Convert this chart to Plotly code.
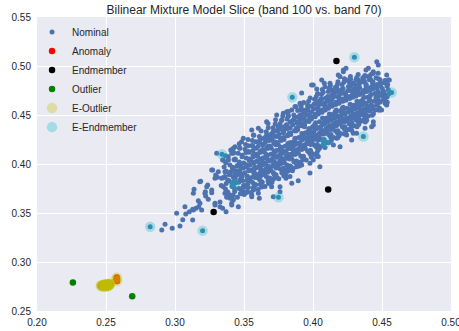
import plotly.graph_objects as go

TITLE = "Bilinear Mixture Model Slice (band 100 vs. band 70)"
x_ticks = [0.20, 0.25, 0.30, 0.35, 0.40, 0.45, 0.50]
y_ticks = [0.25, 0.30, 0.35, 0.40, 0.45, 0.50, 0.55]

# Nominal points (band 100, band 70)
nominal_tail = [
    (0.2904,0.3327),(0.2928,0.3385),(0.2980,0.3344),(0.3036,0.3367),(0.3012,0.3497),(0.3072,0.3565),
    (0.3078,0.3490),(0.3104,0.3514),(0.3128,0.3429),(0.3133,0.3531),(0.3152,0.3548),(0.3172,0.3565),
    (0.3169,0.3626),(0.3181,0.3599),(0.3193,0.3531),(0.3133,0.3702),(0.3138,0.3742),(0.3186,0.3824),
    (0.3237,0.3786),(0.3220,0.3718),(0.3222,0.3674),(0.3241,0.3640),(0.3266,0.3735),(0.3266,0.3707),
    (0.3273,0.3939),(0.3314,0.3922),(0.3295,0.3888),(0.3290,0.3599),(0.3326,0.3612),(0.3326,0.3565),
    (0.3345,0.3548),(0.3370,0.3514),(0.3307,0.3864),(0.3338,0.3854),(0.3350,0.3769),(0.3362,0.3701),
    (0.3379,0.3701),(0.3375,0.3660),(0.3399,0.3650),(0.3411,0.3599),(0.3423,0.3820),(0.3362,0.3873),
    (0.3399,0.3907),(0.3423,0.3939),(0.3447,0.3922),(0.3459,0.3990),(0.3435,0.4041),(0.3423,0.4109),
    (0.3404,0.4143),(0.3435,0.4177),(0.3345,0.4041),(0.3302,0.4109),(0.3230,0.3769),(0.3266,0.3939),
    (0.3290,0.3854),(0.3217,0.3701),(0.3290,0.3582),(0.3459,0.3565),(0.3423,0.3633),(0.3056,0.3430),
    (0.3128,0.3538),(0.3180,0.3820),(0.3350,0.4040),
]
nominal_edges = [
    (0.3664,0.4432),(0.3604,0.4364),(0.3556,0.4347),(0.3568,0.4296),(0.3495,0.4262),(0.3483,0.4228),
    (0.3423,0.4160),(0.3411,0.4109),(0.3386,0.4075),(0.3471,0.4160),(0.3737,0.4500),(0.3785,0.4517),
    (0.3810,0.4534),(0.3918,0.4724),(0.3870,0.4588),(0.3846,0.4551),(0.3930,0.4551),(0.3906,0.4619),
    (0.3821,0.4486),(0.3773,0.4449),(0.3749,0.4381),(0.3712,0.4332),(0.3990,0.4806),(0.4063,0.4857),
    (0.4027,0.4765),(0.4082,0.4823),(0.4135,0.4755),(0.4002,0.4806),(0.4087,0.4789),(0.4183,0.4908),
    (0.4220,0.4942),(0.4239,0.4976),(0.4196,0.4891),(0.4220,0.4959),(0.4123,0.4823),(0.4172,0.4772),
    (0.4256,0.4857),(0.4292,0.4823),(0.4329,0.4857),(0.4365,0.4874),(0.4462,0.5044),(0.4473,0.5010),
    (0.4401,0.4976),(0.4437,0.4942),(0.4384,0.4959),(0.4534,0.4908),(0.4553,0.4857),(0.4401,0.4891),
    (0.4437,0.4925),(0.4546,0.4857),(0.4522,0.4619),(0.4473,0.4653),(0.4534,0.4687),(0.4510,0.4741),
    (0.4497,0.4704),(0.4534,0.4602),(0.4497,0.4551),(0.4377,0.4517),(0.4365,0.4449),(0.4437,0.4432),
    (0.4425,0.4381),(0.4437,0.4398),(0.4377,0.4364),(0.4316,0.4313),(0.4292,0.4313),(0.4280,0.4245),
    (0.4244,0.4296),(0.4172,0.4262),(0.4148,0.4194),(0.4196,0.4177),(0.4038,0.4245),(0.4046,0.4160),
    (0.3978,0.4279),(0.4051,0.4313),(0.4038,0.4076),(0.4051,0.4177),(0.4050,0.3973),(0.3978,0.3907),
    (0.3893,0.3828),(0.3846,0.3803),(0.3804,0.3854),(0.3761,0.3769),(0.3761,0.3718),(0.3712,0.3667),
    (0.3700,0.3769),(0.3604,0.3701),(0.3556,0.3667),(0.4027,0.4076),(0.4002,0.4041),(0.3918,0.3990),
    (0.3857,0.3956),(0.3785,0.3956),(0.3611,0.3650),(0.3483,0.3701),(0.3411,0.3582),(0.3411,0.3650),
    (0.3978,0.4007),(0.3797,0.3888),(0.3833,0.3873),(0.3495,0.3718),(0.3556,0.3684),
]
nominal_core = [
    (0.3335,0.378),(0.3362,0.392),(0.3348,0.386),(0.3371,0.380),(0.3356,0.397),(0.3366,0.3745),
    (0.3384,0.371),(0.3392,0.383),(0.3405,0.392),(0.3413,0.377),(0.3398,0.399),(0.3421,0.387),(0.3387,0.404),
    (0.3416,0.396),(0.3409,0.368),(0.3394,0.389),
    (0.3432,0.372),(0.3441,0.381),(0.3455,0.389),(0.3463,0.375),(0.3448,0.398),(0.3471,0.384),(0.3437,0.405),
    (0.3466,0.402),(0.3452,0.366),(0.3444,0.393),(0.3469,0.393),(0.3458,0.411),(0.3474,0.370),(0.3436,0.386),
    (0.3482,0.374),(0.3491,0.383),(0.3505,0.391),(0.3513,0.378),(0.3498,0.401),(0.3521,0.387),(0.3487,0.409),
    (0.3516,0.406),(0.3502,0.369),(0.3494,0.396),(0.3519,0.397),(0.3508,0.415),(0.3524,0.372),(0.3486,0.389),
    (0.3511,0.420),(0.3497,0.378),
    (0.3532,0.376),(0.3541,0.386),(0.3555,0.394),(0.3563,0.381),(0.3548,0.404),(0.3571,0.391),(0.3537,0.412),
    (0.3566,0.409),(0.3552,0.371),(0.3544,0.399),(0.3569,0.401),(0.3558,0.419),(0.3574,0.377),(0.3536,0.393),
    (0.3561,0.424),(0.3547,0.383),(0.3539,0.405),(0.3567,0.387),
    (0.3582,0.379),(0.3591,0.389),(0.3605,0.397),(0.3613,0.384),(0.3598,0.408),(0.3621,0.395),(0.3587,0.416),
    (0.3616,0.413),(0.3602,0.374),(0.3594,0.403),(0.3619,0.405),(0.3608,0.423),(0.3624,0.380),(0.3586,0.396),
    (0.3611,0.428),(0.3597,0.386),(0.3589,0.410),(0.3617,0.391),(0.3603,0.418),(0.3622,0.400),
    (0.3632,0.381),(0.3641,0.392),(0.3655,0.401),(0.3663,0.387),(0.3648,0.412),(0.3671,0.398),(0.3637,0.420),
    (0.3666,0.417),(0.3652,0.377),(0.3644,0.406),(0.3669,0.409),(0.3658,0.428),(0.3674,0.383),(0.3636,0.399),
    (0.3661,0.433),(0.3647,0.389),(0.3639,0.414),(0.3667,0.394),(0.3653,0.422),(0.3672,0.404),(0.3643,0.426),
    (0.3659,0.395),
    (0.3682,0.385),(0.3691,0.396),(0.3705,0.405),(0.3713,0.391),(0.3698,0.416),(0.3721,0.402),(0.3687,0.424),
    (0.3716,0.421),(0.3702,0.381),(0.3694,0.410),(0.3719,0.413),(0.3708,0.432),(0.3724,0.387),(0.3686,0.403),
    (0.3711,0.437),(0.3697,0.393),(0.3689,0.418),(0.3717,0.398),(0.3703,0.426),(0.3722,0.408),(0.3693,0.430),
    (0.3709,0.399),
    (0.3732,0.389),(0.3741,0.400),(0.3755,0.409),(0.3763,0.395),(0.3748,0.420),(0.3771,0.406),(0.3737,0.428),
    (0.3766,0.425),(0.3752,0.385),(0.3744,0.414),(0.3769,0.417),(0.3758,0.436),(0.3774,0.391),(0.3736,0.407),
    (0.3761,0.441),(0.3747,0.397),(0.3739,0.422),(0.3767,0.402),(0.3753,0.430),(0.3772,0.412),(0.3743,0.434),
    (0.3759,0.403),
    (0.3783,0.394),(0.3795,0.405),(0.3804,0.413),(0.3811,0.399),(0.3790,0.425),(0.3822,0.409),(0.3786,0.433),
    (0.3815,0.429),(0.3801,0.389),(0.3797,0.418),(0.3818,0.421),(0.3807,0.440),(0.3826,0.396),(0.3784,0.411),
    (0.3812,0.446),(0.3793,0.401),(0.3788,0.427),(0.3819,0.406),(0.3806,0.436),(0.3824,0.416),(0.3791,0.438),
    (0.3809,0.408),
    (0.3831,0.398),(0.3843,0.410),(0.3856,0.417),(0.3862,0.403),(0.3839,0.430),(0.3873,0.413),(0.3835,0.437),
    (0.3866,0.434),(0.3851,0.393),(0.3847,0.422),(0.3869,0.426),(0.3857,0.445),(0.3876,0.401),(0.3833,0.416),
    (0.3861,0.450),(0.3844,0.406),(0.3838,0.432),(0.3868,0.411),(0.3854,0.440),(0.3874,0.420),(0.3841,0.443),
    (0.3859,0.413),
    (0.3881,0.403),(0.3893,0.415),(0.3906,0.422),(0.3912,0.408),(0.3889,0.435),(0.3923,0.418),(0.3885,0.442),
    (0.3916,0.439),(0.3901,0.398),(0.3897,0.427),(0.3919,0.431),(0.3907,0.450),(0.3926,0.406),(0.3883,0.421),
    (0.3911,0.455),(0.3894,0.411),(0.3888,0.437),(0.3918,0.416),(0.3904,0.445),(0.3924,0.425),(0.3891,0.448),
    (0.3909,0.418),
    (0.3931,0.408),(0.3943,0.420),(0.3956,0.427),(0.3962,0.413),(0.3939,0.440),(0.3973,0.423),(0.3935,0.447),
    (0.3966,0.444),(0.3951,0.404),(0.3947,0.432),(0.3969,0.436),(0.3957,0.455),(0.3976,0.411),(0.3933,0.426),
    (0.3961,0.460),(0.3944,0.416),(0.3938,0.442),(0.3968,0.421),(0.3954,0.450),(0.3974,0.430),(0.3941,0.453),
    (0.3959,0.423),
    (0.3981,0.414),(0.3993,0.426),(0.4006,0.433),(0.4012,0.419),(0.3989,0.446),(0.4023,0.429),(0.3985,0.453),
    (0.4016,0.450),(0.4001,0.410),(0.3997,0.438),(0.4019,0.442),(0.4007,0.461),(0.4026,0.417),(0.3983,0.432),
    (0.4011,0.466),(0.3994,0.422),(0.3988,0.448),(0.4018,0.427),(0.4004,0.456),(0.4024,0.436),(0.3991,0.459),
    (0.4009,0.429),
    (0.4031,0.420),(0.4043,0.431),(0.4056,0.438),(0.4062,0.425),(0.4039,0.451),(0.4073,0.434),(0.4035,0.458),
    (0.4066,0.455),(0.4051,0.417),(0.4047,0.443),(0.4069,0.447),(0.4057,0.466),(0.4076,0.423),(0.4033,0.437),
    (0.4061,0.471),(0.4044,0.428),(0.4038,0.453),(0.4068,0.432),(0.4054,0.461),(0.4074,0.441),(0.4041,0.464),
    (0.4059,0.434),
    (0.4081,0.425),(0.4093,0.436),(0.4106,0.443),(0.4112,0.430),(0.4089,0.455),(0.4123,0.439),(0.4085,0.462),
    (0.4116,0.459),(0.4101,0.422),(0.4097,0.447),(0.4119,0.451),(0.4107,0.469),(0.4126,0.428),(0.4083,0.441),
    (0.4111,0.474),(0.4094,0.433),(0.4088,0.457),(0.4118,0.436),(0.4104,0.465),(0.4124,0.445),(0.4091,0.467),
    (0.4109,0.438),
    (0.4131,0.430),(0.4143,0.440),(0.4156,0.447),(0.4162,0.434),(0.4139,0.459),(0.4173,0.443),(0.4135,0.466),
    (0.4166,0.463),(0.4151,0.427),(0.4147,0.451),(0.4169,0.455),(0.4157,0.473),(0.4176,0.432),(0.4133,0.445),
    (0.4161,0.478),(0.4144,0.437),(0.4138,0.461),(0.4168,0.440),(0.4154,0.469),(0.4174,0.449),(0.4141,0.471),
    (0.4159,0.442),
    (0.4181,0.434),(0.4193,0.444),(0.4206,0.450),(0.4212,0.438),(0.4189,0.462),(0.4223,0.446),(0.4185,0.469),
    (0.4216,0.466),(0.4201,0.431),(0.4197,0.454),(0.4219,0.458),(0.4207,0.476),(0.4226,0.436),(0.4183,0.448),
    (0.4211,0.481),(0.4194,0.441),(0.4188,0.464),(0.4218,0.444),(0.4204,0.472),(0.4224,0.452),(0.4191,0.474),
    (0.4209,0.446),
    (0.4231,0.438),(0.4243,0.447),(0.4256,0.453),(0.4262,0.441),(0.4239,0.465),(0.4273,0.449),(0.4235,0.472),
    (0.4266,0.469),(0.4251,0.435),(0.4247,0.457),(0.4269,0.461),(0.4257,0.479),(0.4276,0.440),(0.4233,0.451),
    (0.4261,0.484),(0.4244,0.444),(0.4238,0.467),(0.4268,0.447),(0.4254,0.475),(0.4274,0.455),
    (0.4281,0.442),(0.4293,0.451),(0.4306,0.456),(0.4312,0.445),(0.4289,0.468),(0.4323,0.452),(0.4285,0.475),
    (0.4316,0.472),(0.4301,0.439),(0.4297,0.460),(0.4319,0.464),(0.4307,0.481),(0.4326,0.444),(0.4283,0.454),
    (0.4311,0.486),(0.4294,0.447),(0.4288,0.470),(0.4318,0.449),(0.4304,0.477),(0.4324,0.458),
    (0.4331,0.447),(0.4343,0.455),(0.4356,0.460),(0.4362,0.450),(0.4339,0.471),(0.4373,0.456),(0.4335,0.478),
    (0.4366,0.475),(0.4351,0.444),(0.4347,0.464),(0.4369,0.468),(0.4357,0.484),(0.4376,0.449),(0.4333,0.458),
    (0.4361,0.488),(0.4344,0.452),(0.4338,0.473),(0.4368,0.453),
    (0.4381,0.451),(0.4393,0.459),(0.4406,0.464),(0.4412,0.454),(0.4389,0.474),(0.4423,0.460),(0.4385,0.481),
    (0.4416,0.478),(0.4401,0.449),(0.4397,0.468),(0.4419,0.471),(0.4407,0.486),(0.4426,0.456),(0.4383,0.462),
    (0.4411,0.490),(0.4394,0.457),
    (0.4431,0.457),(0.4443,0.464),(0.4456,0.468),(0.4462,0.460),(0.4439,0.477),(0.4473,0.465),(0.4435,0.484),
    (0.4466,0.481),(0.4451,0.455),(0.4447,0.472),(0.4469,0.474),(0.4457,0.488),(0.4476,0.470),
    (0.4483,0.463),(0.4495,0.470),(0.4506,0.474),(0.4512,0.466),(0.4489,0.480),(0.4521,0.471),(0.4486,0.486),
    (0.4516,0.483),(0.4502,0.477),
    (0.4532,0.468),(0.4545,0.476),(0.4541,0.481),(0.4552,0.472),(0.4538,0.463),
]
nominal_core_b = [
    (0.3376,0.3665),(0.3368,0.4012),(0.3381,0.3838),(0.3372,0.3927),(0.3379,0.3718),(0.3366,0.4085),
    (0.3431,0.3752),(0.3417,0.3968),(0.3426,0.4118),(0.3412,0.3805),(0.3435,0.3893),(0.3421,0.3681),
    (0.3428,0.4047),(0.3433,0.3842),
    (0.3463,0.3814),(0.3486,0.4073),(0.3471,0.3905),(0.3479,0.3697),(0.3468,0.4162),(0.3482,0.3861),
    (0.3474,0.3988),(0.3488,0.3752),(0.3466,0.4206),(0.3477,0.3959),
    (0.3527,0.3795),(0.3514,0.4118),(0.3535,0.3941),(0.3519,0.3709),(0.3531,0.4187),(0.3522,0.3877),
    (0.3538,0.4035),(0.3513,0.3766),(0.3529,0.4251),(0.3517,0.3993),(0.3533,0.4128),(0.3524,0.3832),
    (0.3581,0.3862),(0.3564,0.4139),(0.3577,0.3966),(0.3569,0.3734),(0.3586,0.4227),(0.3573,0.3919),
    (0.3566,0.4072),(0.3584,0.3788),(0.3571,0.4294),(0.3579,0.4018),(0.3563,0.4185),(0.3588,0.3893),
    (0.3575,0.4103),(0.3567,0.3757),
    (0.3619,0.3873),(0.3636,0.4196),(0.3614,0.4002),(0.3628,0.3766),(0.3621,0.4259),(0.3633,0.3937),
    (0.3616,0.4118),(0.3630,0.3819),(0.3624,0.4338),(0.3638,0.4061),(0.3613,0.4224),(0.3627,0.3905),
    (0.3635,0.4149),(0.3618,0.3792),(0.3631,0.4025),
    (0.3672,0.3915),(0.3664,0.4241),(0.3685,0.4033),(0.3678,0.3802),(0.3667,0.4297),(0.3681,0.3971),
    (0.3670,0.4159),(0.3687,0.3858),(0.3676,0.4369),(0.3662,0.4098),(0.3683,0.4262),(0.3669,0.3944),
    (0.3679,0.4183),(0.3686,0.3826),(0.3665,0.4066),(0.3674,0.4412),
    (0.3733,0.3958),(0.3716,0.4282),(0.3728,0.4071),(0.3713,0.3844),(0.3737,0.4339),(0.3721,0.4012),
    (0.3731,0.4197),(0.3718,0.3897),(0.3726,0.4408),(0.3735,0.4138),(0.3714,0.4295),(0.3730,0.3983),
    (0.3722,0.4226),(0.3738,0.3861),(0.3719,0.4109),(0.3729,0.4452),
    (0.3766,0.4003),(0.3784,0.4318),(0.3771,0.4112),(0.3788,0.3881),(0.3763,0.4376),(0.3779,0.4049),
    (0.3769,0.4241),(0.3786,0.3932),(0.3774,0.4447),(0.3765,0.4171),(0.3782,0.4334),(0.3777,0.4018),
    (0.3762,0.4268),(0.3789,0.3906),(0.3773,0.4144),(0.3781,0.4489),
    (0.3829,0.4052),(0.3813,0.4361),(0.3836,0.4159),(0.3818,0.3927),(0.3833,0.4425),(0.3824,0.4096),
    (0.3815,0.4288),(0.3838,0.3978),(0.3821,0.4494),(0.3831,0.4218),(0.3812,0.4382),(0.3835,0.4067),
    (0.3826,0.4313),(0.3817,0.3951),(0.3837,0.4192),(0.3822,0.4536),
    (0.3871,0.4098),(0.3888,0.4412),(0.3864,0.4205),(0.3882,0.3973),(0.3867,0.4471),(0.3885,0.4143),
    (0.3876,0.4336),(0.3862,0.4024),(0.3889,0.4545),(0.3873,0.4262),(0.3884,0.4428),(0.3866,0.4112),
    (0.3879,0.4361),(0.3887,0.3998),(0.3868,0.4239),(0.3878,0.4583),
    (0.3918,0.4149),(0.3936,0.4457),(0.3923,0.4253),(0.3912,0.4021),(0.3931,0.4522),(0.3916,0.4188),
    (0.3938,0.4381),(0.3927,0.4073),(0.3914,0.4592),(0.3934,0.4309),(0.3921,0.4476),(0.3937,0.4161),
    (0.3913,0.4407),(0.3929,0.4046),(0.3919,0.4285),(0.3933,0.4627),
    (0.3983,0.4198),(0.3966,0.4503),(0.3978,0.4304),(0.3988,0.4069),(0.3962,0.4571),(0.3981,0.4236),
    (0.3971,0.4433),(0.3986,0.4122),(0.3968,0.4641),(0.3976,0.4358),(0.3989,0.4527),(0.3964,0.4209),
    (0.3974,0.4458),(0.3985,0.4093),(0.3967,0.4332),(0.3979,0.4674),
    (0.4018,0.4252),(0.4036,0.4551),(0.4014,0.4356),(0.4029,0.4118),(0.4022,0.4619),(0.4038,0.4283),
    (0.4016,0.4482),(0.4031,0.4171),(0.4024,0.4688),(0.4013,0.4405),(0.4035,0.4574),(0.4027,0.4259),
    (0.4019,0.4507),(0.4037,0.4143),(0.4021,0.4381),(0.4033,0.4719),
    (0.4069,0.4305),(0.4084,0.4596),(0.4072,0.4402),(0.4087,0.4168),(0.4063,0.4664),(0.4078,0.4331),
    (0.4066,0.4528),(0.4086,0.4219),(0.4074,0.4733),(0.4081,0.4452),(0.4064,0.4617),(0.4079,0.4307),
    (0.4088,0.4553),(0.4071,0.4192),(0.4083,0.4428),(0.4067,0.4761),
    (0.4131,0.4351),(0.4114,0.4637),(0.4127,0.4448),(0.4119,0.4219),(0.4136,0.4703),(0.4122,0.4378),
    (0.4112,0.4569),(0.4134,0.4266),(0.4117,0.4772),(0.4129,0.4494),(0.4138,0.4658),(0.4115,0.4352),
    (0.4124,0.4594),(0.4133,0.4241),(0.4113,0.4471),(0.4126,0.4801),
    (0.4168,0.4396),(0.4186,0.4675),(0.4163,0.4489),(0.4179,0.4268),(0.4172,0.4739),(0.4188,0.4421),
    (0.4165,0.4607),(0.4182,0.4312),(0.4176,0.4808),(0.4162,0.4537),(0.4184,0.4694),(0.4171,0.4394),
    (0.4178,0.4631),(0.4189,0.4287),(0.4166,0.4516),(0.4181,0.4839),
    (0.4221,0.4432),(0.4237,0.4706),(0.4214,0.4522),(0.4229,0.4305),(0.4218,0.4771),(0.4233,0.4457),
    (0.4216,0.4641),(0.4238,0.4349),(0.4225,0.4838),(0.4212,0.4569),(0.4231,0.4726),(0.4223,0.4428),
    (0.4213,0.4663),(0.4236,0.4321),(0.4219,0.4548),(0.4228,0.4869),
    (0.4269,0.4465),(0.4286,0.4731),(0.4263,0.4553),(0.4281,0.4342),(0.4274,0.4796),(0.4288,0.4489),
    (0.4266,0.4668),(0.4279,0.4381),(0.4272,0.4861),(0.4284,0.4597),(0.4262,0.4752),(0.4277,0.4461),
    (0.4287,0.4689),(0.4268,0.4358),(0.4282,0.4574),(0.4271,0.4893),
    (0.4332,0.4502),(0.4314,0.4756),(0.4327,0.4587),(0.4319,0.4381),(0.4336,0.4818),(0.4322,0.4519),
    (0.4312,0.4694),(0.4334,0.4418),(0.4317,0.4883),(0.4329,0.4625),(0.4338,0.4779),(0.4315,0.4493),
    (0.4324,0.4717),(0.4331,0.4402),(0.4313,0.4601),(0.4327,0.4912),
    (0.4368,0.4541),(0.4386,0.4783),(0.4363,0.4618),(0.4379,0.4428),(0.4372,0.4844),(0.4388,0.4552),
    (0.4365,0.4726),(0.4382,0.4461),(0.4376,0.4903),(0.4362,0.4659),(0.4384,0.4805),(0.4371,0.4529),
    (0.4378,0.4748),(0.4389,0.4447),
    (0.4421,0.4582),(0.4437,0.4806),(0.4414,0.4649),(0.4429,0.4497),(0.4418,0.4862),(0.4433,0.4588),
    (0.4416,0.4753),(0.4438,0.4512),(0.4425,0.4918),(0.4412,0.4689),(0.4431,0.4827),(0.4423,0.4561),
    (0.4469,0.4621),(0.4486,0.4822),(0.4463,0.4688),(0.4481,0.4572),(0.4474,0.4869),(0.4488,0.4637),
    (0.4466,0.4779),(0.4479,0.4548),(0.4472,0.4926),(0.4484,0.4712),
    (0.4519,0.4658),(0.4536,0.4797),(0.4514,0.4735),(0.4529,0.4612),(0.4522,0.4853),(0.4538,0.4689),
]

anomaly_x = [0.2462, 0.2470, 0.2478, 0.2485, 0.2492, 0.2495, 0.2503, 0.2505, 0.2512, 0.2515, 0.2522, 0.2528, 0.2510,
             0.2466, 0.2474, 0.2481, 0.2488, 0.2498, 0.2500, 0.2508, 0.2518, 0.2520, 0.2525, 0.2532, 0.2490, 0.2483,
             0.2507, 0.2516, 0.2578, 0.2580, 0.2576]
anomaly_y = [0.2758, 0.2752, 0.2765, 0.2760, 0.2748, 0.2770, 0.2757, 0.2775, 0.2763, 0.2771, 0.2767, 0.2778, 0.2750,
             0.2762, 0.2757, 0.2769, 0.2754, 0.2762, 0.2773, 0.2766, 0.2758, 0.2776, 0.2770, 0.2773, 0.2766, 0.2750,
             0.2760, 0.2765, 0.2842, 0.2806, 0.2824]

endmember_x = [0.417, 0.328, 0.411]
endmember_y = [0.505, 0.351, 0.374]

outlier_x = [0.226, 0.269]
outlier_y = [0.279, 0.265]

e_outlier_x = list(anomaly_x)
e_outlier_y = list(anomaly_y)

e_endmember_x = [0.430, 0.457, 0.385, 0.4365, 0.409, 0.375, 0.343, 0.334, 0.282, 0.320]
e_endmember_y = [0.509, 0.473, 0.468, 0.428, 0.422, 0.366, 0.380, 0.410, 0.336, 0.332]

all_nominal = nominal_tail + nominal_edges + nominal_core + nominal_core_b
nom_x = [p[0] for p in all_nominal] + e_endmember_x
nom_y = [p[1] for p in all_nominal] + e_endmember_y

fig = go.Figure()
fig.add_trace(go.Scatter(x=nom_x, y=nom_y, mode="markers", name="Nominal",
                         marker=dict(color="#4C72B0", size=5.0, line=dict(width=0))))
fig.add_trace(go.Scatter(x=anomaly_x, y=anomaly_y, mode="markers", name="Anomaly",
                         marker=dict(color="#FF0000", size=6.5, line=dict(width=0))))
fig.add_trace(go.Scatter(x=endmember_x, y=endmember_y, mode="markers", name="Endmember",
                         marker=dict(color="#000000", size=6.5, line=dict(width=0))))
fig.add_trace(go.Scatter(x=outlier_x, y=outlier_y, mode="markers", name="Outlier",
                         marker=dict(color="#008000", size=6.5, line=dict(width=0))))
fig.add_trace(go.Scatter(x=e_outlier_x, y=e_outlier_y, mode="markers", name="E-Outlier",
                         marker=dict(color="rgba(191,191,0,0.32)", size=10.5, line=dict(width=0))))
fig.add_trace(go.Scatter(x=e_endmember_x, y=e_endmember_y, mode="markers", name="E-Endmember",
                         marker=dict(color="rgba(0,191,191,0.3)", size=10.5, line=dict(width=0))))

font_family = "Liberation Sans, Arial, sans-serif"
fig.update_layout(
    width=459, height=331,
    margin=dict(l=37, r=8, t=17, b=20),
    paper_bgcolor="white", plot_bgcolor="#EAEAF2",
    font=dict(family=font_family, size=10, color="#262626"),
    title=dict(text=TITLE, x=0.5, xref="paper", xanchor="center", y=1 - 10 / 331, yanchor="middle",
               font=dict(family=font_family, size=12, color="#262626")),
    showlegend=True,
    legend=dict(x=-0.012, y=0.998, xanchor="left", yanchor="top", bgcolor="rgba(0,0,0,0)",
                borderwidth=0, font=dict(size=10, color="#262626"), itemwidth=30),
    xaxis=dict(range=[0.20, 0.50], tickvals=x_ticks, ticktext=[f"{v:.2f}" for v in x_ticks],
               showgrid=True, gridcolor="white", gridwidth=1, zeroline=False, showline=False,
               ticks="", ticklabelstandoff=4, ticklabeloverflow="allow", automargin=False,
               tickfont=dict(size=10, color="#262626")),
    yaxis=dict(range=[0.25, 0.55], tickvals=y_ticks, ticktext=[f"{v:.2f}" for v in y_ticks],
               showgrid=True, gridcolor="white", gridwidth=1, zeroline=False, showline=False,
               ticks="", ticklabelstandoff=5, ticklabeloverflow="allow", automargin=False,
               tickfont=dict(size=10, color="#262626")),
)

fig.write_html("out.html", config={"displayModeBar": False},
               post_script="document.body.style.margin='0';")
